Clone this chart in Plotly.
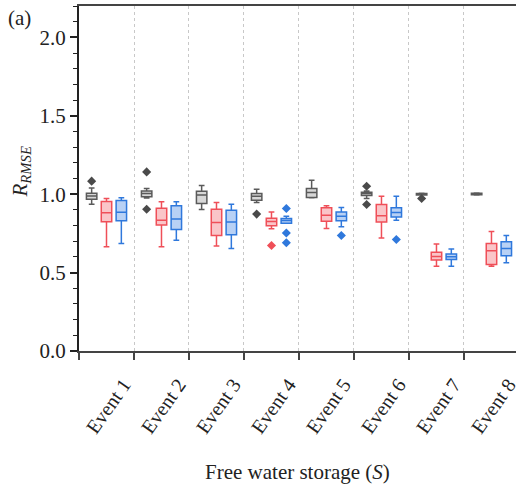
import plotly.graph_objects as go

# Events on the x axis
events = ["Event 1", "Event 2", "Event 3", "Event 4",
          "Event 5", "Event 6", "Event 7", "Event 8"]

# Gray group: box statistics per event
gray_lower = [0.936, 0.975, 0.903, 0.947, 0.977, 0.972, 0.994, 0.994]
gray_q1 = [0.968, 0.983, 0.941, 0.962, 0.979, 0.992, 0.995, 0.996]
gray_median = [0.989, 1.004, 0.994, 0.987, 1.011, 1.004, 0.999, 1.001]
gray_q3 = [1.006, 1.021, 1.019, 1.004, 1.036, 1.013, 1.004, 1.006]
gray_upper = [1.040, 1.036, 1.055, 1.032, 1.089, 1.021, 1.006, 1.008]
gray_outliers = [[1.083], [1.142, 0.904], [], [0.873], [], [1.051, 0.934], [0.972], []]

# Red group
red_lower = [0.664, 0.664, 0.669, 0.779, 0.781, 0.720, 0.541, 0.541]
red_q1 = [0.824, 0.803, 0.737, 0.798, 0.828, 0.822, 0.580, 0.552]
red_median = [0.881, 0.834, 0.820, 0.826, 0.866, 0.862, 0.603, 0.639]
red_q3 = [0.953, 0.911, 0.904, 0.847, 0.913, 0.934, 0.629, 0.686]
red_upper = [0.972, 0.951, 0.947, 0.887, 0.926, 0.987, 0.682, 0.762]
red_outliers = [[], [], [], [0.673], [], [], [], []]

# Blue group
blue_lower = [0.686, 0.707, 0.654, 0.815, 0.792, 0.834, 0.541, 0.562]
blue_q1 = [0.830, 0.775, 0.741, 0.815, 0.830, 0.855, 0.584, 0.607]
blue_median = [0.885, 0.841, 0.822, 0.832, 0.860, 0.883, 0.601, 0.654]
blue_q3 = [0.960, 0.926, 0.898, 0.845, 0.887, 0.913, 0.618, 0.696]
blue_upper = [0.977, 0.951, 0.936, 0.860, 0.915, 0.987, 0.650, 0.737]
blue_outliers = [[], [], [], [0.909, 0.752, 0.690], [0.737], [0.711], [], []]

y_ticks = [0.0, 0.5, 1.0, 1.5, 2.0]

FONT = "Liberation Serif"
TEXT_C = "#222222"

# offset of each group inside an event slot, and box width (axis units)
OFFSETS = [-0.27, 0.0, 0.27]
BOX_W = 0.19

groups = [
    (gray_lower, gray_q1, gray_median, gray_q3, gray_upper, gray_outliers,
     "#5a5a5a", "rgba(175,175,175,0.5)", "#4a4a4a"),
    (red_lower, red_q1, red_median, red_q3, red_upper, red_outliers,
     "#ef4f58", "rgba(246,150,155,0.55)", "#ef4f58"),
    (blue_lower, blue_q1, blue_median, blue_q3, blue_upper, blue_outliers,
     "#2f78dc", "rgba(125,172,236,0.55)", "#2f78dc"),
]

idx = list(range(len(events)))

fig = go.Figure()
for off, (lo, q1, med, q3, up, outs, line_c, fill_c, pt_c) in zip(OFFSETS, groups):
    pos = [i + off for i in idx]
    fig.add_trace(go.Box(
        x=pos,
        q1=q1, median=med, q3=q3,
        lowerfence=lo, upperfence=up,
        width=BOX_W,
        boxpoints=False,
        line=dict(color=line_c, width=1.5),
        fillcolor=fill_c,
        whiskerwidth=0.55,
        showlegend=False,
    ))
    ox = [i + off for i in idx for _ in outs[i]]
    oy = [v for i in idx for v in outs[i]]
    fig.add_trace(go.Scatter(
        x=ox, y=oy, mode="markers",
        marker=dict(symbol="diamond", size=7, color=pt_c, line=dict(width=0)),
        showlegend=False,
    ))

fig.update_layout(
    width=520, height=488,
    margin=dict(l=79, r=0, t=6, b=137),
    paper_bgcolor="white", plot_bgcolor="white",
    boxmode="overlay",
    font=dict(family=FONT, color=TEXT_C),
)

fig.update_xaxes(
    range=[-0.5, 7.446],
    tickmode="array", tickvals=idx, ticktext=events,
    ticks="", showgrid=False,
    minor=dict(tick0=0.5, dtick=1, ticks="outside", ticklen=7, tickwidth=2,
               tickcolor="#444444", showgrid=True, gridcolor="#c8c8c8",
               gridwidth=1, griddash="dot"),
    showline=True, linewidth=2, linecolor="#444444", mirror=True,
    tickangle=-55,
    tickfont=dict(family=FONT, size=20, color=TEXT_C),
    ticklabelshift=17, ticklabelstandoff=12,
    ticklabeloverflow="allow",
    zeroline=False,
)

fig.update_yaxes(
    range=[0, 2.2],
    tickmode="array", tickvals=y_ticks,
    ticktext=[f"{v:.1f}" for v in y_ticks],
    ticks="outside", ticklen=7, tickwidth=1.5, tickcolor=TEXT_C,
    minor=dict(dtick=0.1, tick0=0, ticks="outside", ticklen=4,
               tickwidth=1, tickcolor=TEXT_C, showgrid=False),
    showline=True, linewidth=2, linecolor=TEXT_C,
    showgrid=False, zeroline=False,
    tickfont=dict(family=FONT, size=21, color=TEXT_C),
)

fig.add_annotation(
    text="<i>R</i><sub><i>RMSE</i></sub>",
    xref="paper", yref="paper", x=0, y=0.5, xshift=-59, yshift=6,
    xanchor="center", yanchor="middle", textangle=-90, showarrow=False,
    font=dict(family=FONT, size=21, color=TEXT_C),
)
fig.add_annotation(
    text="Free water storage (<i>S</i>)",
    xref="paper", yref="paper", x=0.5, y=0, yshift=-121,
    xanchor="center", yanchor="middle", showarrow=False,
    font=dict(family=FONT, size=21, color=TEXT_C),
)
fig.add_annotation(
    text="(a)",
    xref="paper", yref="paper", x=0, y=1, xshift=-73, yshift=-12,
    xanchor="left", yanchor="middle", showarrow=False,
    font=dict(family=FONT, size=21, color=TEXT_C),
)

fig.write_html("out.html")
